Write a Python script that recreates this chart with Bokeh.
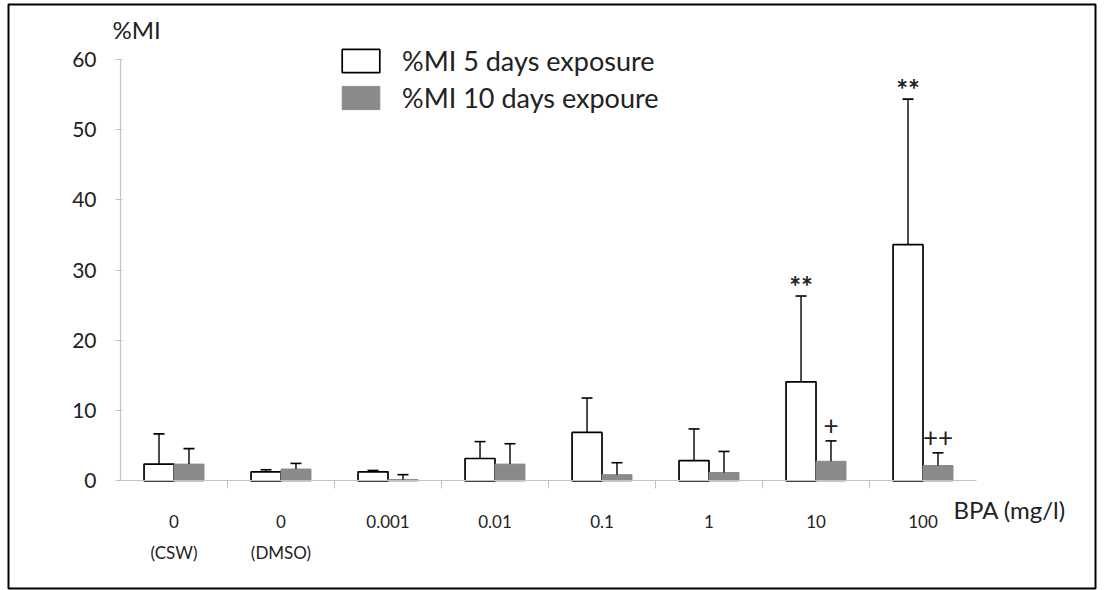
from bokeh.plotting import figure
from bokeh.models import (ColumnDataSource, Range1d, LinearAxis, FixedTicker, Whisker,
                          TeeHead, Label, Legend, LegendItem)
from bokeh.embed import file_html
from bokeh.resources import INLINE
from bokeh.core.properties import value

# ---- data ----
categories = ["0\n(CSW)", "0\n(DMSO)", "0.001", "0.01", "0.1", "1", "10", "100"]
mi_5_days = [2.4, 1.3, 1.3, 3.2, 6.9, 2.9, 14.1, 33.6]
mi_5_days_err = [6.7, 1.6, 1.5, 5.6, 11.8, 7.4, 26.3, 54.3]
mi_10_days = [2.4, 1.7, 0.2, 2.4, 0.9, 1.2, 2.8, 2.2]
mi_10_days_err = [4.6, 2.5, 0.9, 5.3, 2.6, 4.2, 5.7, 4.0]
sig_5_days = ["", "", "", "", "", "", "**", "**"]
sig_10_days = ["", "", "", "", "", "", "+", "++"]
y_ticks = [0, 10, 20, 30, 40, 50, 60]
series_names = ["%MI 5 days exposure", "%MI 10 days expoure"]

FONT = "Lato"
TXT = "#222222"
AXC = "#bcc4ce"
GRAY = "#8a8a8a"

n = len(categories)
idx = list(range(n))
off = 0.14
bw = 0.28

src5 = ColumnDataSource(dict(x=[i - off for i in idx], top=mi_5_days, err=mi_5_days_err, sig=sig_5_days))
src10 = ColumnDataSource(dict(x=[i + off for i in idx], top=mi_10_days, err=mi_10_days_err, sig=sig_10_days))

p = figure(width=1105, height=590,
           x_range=Range1d(-1.5467, 8.612), y_range=Range1d(-15.285, 67.75),
           x_axis_location=None, y_axis_location=None,
           toolbar_location=None, output_backend="svg",
           min_border_left=8, min_border_right=10, min_border_top=4, min_border_bottom=2,
           outline_line_color="black", outline_line_width=2,
           background_fill_color="white", border_fill_color="white")
p.grid.visible = False

# axes
yaxis = LinearAxis(fixed_location=-0.5, bounds=(0, 60), ticker=FixedTicker(ticks=y_ticks, minor_ticks=[]),
                   axis_line_color=AXC, axis_line_width=1.2,
                   major_tick_line_color=AXC, major_tick_out=5, major_tick_in=2,
                   minor_tick_line_color=None,
                   major_label_text_font=FONT, major_label_text_font_size="21px",
                   major_label_text_color=TXT, major_label_standoff=19)
p.add_layout(yaxis, "left")

xaxis = LinearAxis(fixed_location=0, bounds=(-0.5, n - 0.5),
                   ticker=FixedTicker(ticks=idx, minor_ticks=[i + 0.5 for i in idx[:-1]]),
                   major_label_overrides={i: c for i, c in zip(idx, categories)},
                   axis_line_color=AXC, axis_line_width=1.2,
                   major_tick_line_color=None, major_tick_out=0, major_tick_in=0,
                   minor_tick_line_color=AXC, minor_tick_out=8, minor_tick_in=0,
                   major_label_text_font=FONT, major_label_text_font_size="17px",
                   major_label_text_color=TXT, major_label_standoff=22,
                   major_label_text_line_height=1.5)
p.add_layout(xaxis, "below")

# bars
r5 = p.vbar(x="x", top="top", bottom=0, width=bw, source=src5,
            fill_color="white", line_color="black", line_width=1.7)
r10 = p.vbar(x="x", top="top", bottom=0, width=bw, source=src10,
             fill_color=GRAY, line_color=GRAY, line_width=1)

# error bars (upper only)
for s in (src5, src10):
    p.add_layout(Whisker(source=s, base="x", lower="top", upper="err", dimension="height",
                         line_color="black", line_width=1.4, level="glyph",
                         upper_head=TeeHead(size=11, line_color="black", line_width=1.6),
                         lower_head=None))

# significance marks
p.text(x="x", y="err", text="sig", source=src5, text_font=value(FONT), text_font_size="28px",
       text_font_style="bold", text_color=TXT, text_align="center", text_baseline="middle", y_offset=-10)
p.text(x="x", y="err", text="sig", source=src10, text_font=value(FONT), text_font_size="26px",
       text_color=TXT, text_align="center", text_baseline="middle", y_offset=-16)

# axis titles
p.add_layout(Label(x=-0.575, y=64.2, text="%MI", text_font=FONT, text_font_size="24px",
                   text_color=TXT, text_align="left", text_baseline="middle"))
p.add_layout(Label(x=7.285, y=-4.0, text="BPA (mg/l)", text_font=FONT, text_font_size="24px",
                   text_color=TXT, text_align="left", text_baseline="middle"))

# legend
legend = Legend(items=[LegendItem(label=series_names[0], renderers=[r5]),
                       LegendItem(label=series_names[1], renderers=[r10])],
                location=(329, 474), orientation="vertical",
                glyph_width=47, glyph_height=29, spacing=4, padding=0, margin=0,
                label_standoff=18, label_text_font=FONT, label_text_font_size="27px",
                label_text_color=TXT, label_height=29,
                border_line_color=None, background_fill_alpha=0)
p.add_layout(legend)

open("out.html", "w").write(file_html(p, INLINE))
